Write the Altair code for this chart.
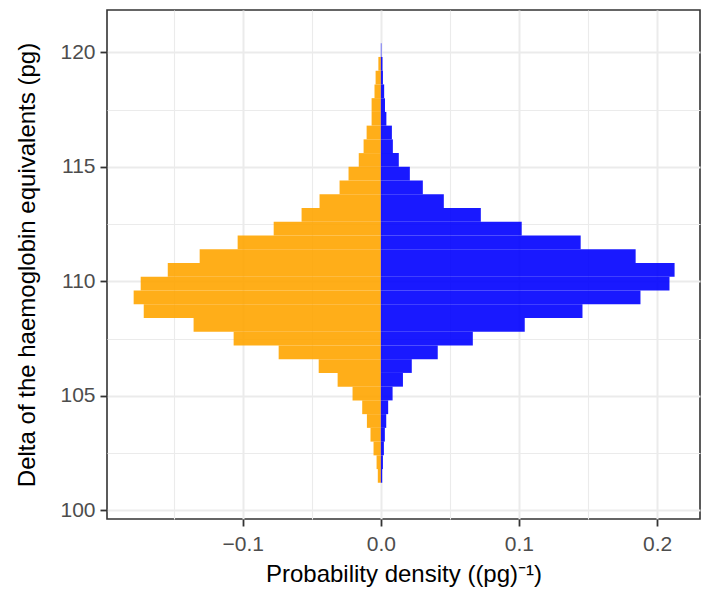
import altair as alt
import pandas as pd

# Lower edges of the histogram bins (pg); each bin is 0.6 pg wide
bin_lower = [101.2, 101.8, 102.4, 103.0, 103.6, 104.2, 104.8, 105.4, 106.0, 106.6,
             107.2, 107.8, 108.4, 109.0, 109.6, 110.2, 110.8, 111.4, 112.0, 112.6,
             113.2, 113.8, 114.4, 115.0, 115.6, 116.2, 116.8, 117.4, 118.0, 118.6,
             119.2, 119.8]
bin_width = 0.6

# Densities (plotted to the left, negative side)
density_orange = [0.0022, 0.0031, 0.0053, 0.0075, 0.0101, 0.0135, 0.0205, 0.0313, 0.045, 0.074,
                  0.1066, 0.1356, 0.1717, 0.179, 0.1739, 0.1543, 0.1312, 0.1037, 0.0776, 0.0574,
                  0.0444, 0.0299, 0.0234, 0.016, 0.0125, 0.0103, 0.0067, 0.0067, 0.0046, 0.0038,
                  0.0018, 0.0]
# Densities (plotted to the right, positive side)
density_blue = [0.001, 0.0015, 0.0022, 0.0029, 0.0039, 0.0053, 0.0085, 0.016, 0.0224, 0.0412,
                0.0666, 0.1042, 0.146, 0.188, 0.209, 0.2127, 0.1845, 0.1447, 0.102, 0.0724,
                0.0456, 0.0304, 0.021, 0.013, 0.0087, 0.008, 0.004, 0.003, 0.0024, 0.0015,
                0.0012, 0.0004]

x_ticks = [-0.15, -0.1, -0.05, 0.0, 0.05, 0.1, 0.15, 0.2]
y_ticks = [100, 102.5, 105, 107.5, 110, 112.5, 115, 117.5, 120]

rows = []
for lo, d in zip(bin_lower, density_orange):
    rows.append({"lower": lo, "upper": lo + bin_width, "value": -d, "base": 0.0, "group": "orange"})
for lo, d in zip(bin_lower, density_blue):
    rows.append({"lower": lo, "upper": lo + bin_width, "value": d, "base": 0.0, "group": "blue"})
df = pd.DataFrame(rows)

FONT = "Liberation Sans"
x_major = "abs(datum.value*10 - round(datum.value*10)) < 1e-6"
y_major = "abs(datum.value/5 - round(datum.value/5)) < 1e-6"

x_axis = alt.Axis(
    values=x_ticks, format=".1f",
    labelExpr=f"({x_major}) ? datum.label : ''",
    title="Probability density ((pg)⁻¹)",
    domain=False, tickColor="#333333", tickSize=7, tickWidth=1.8,
    tickOpacity={"condition": {"test": x_major, "value": 1}, "value": 0},
    gridColor="#EBEBEB",
    gridWidth={"condition": {"test": x_major, "value": 2.0}, "value": 1.1},
    labelColor="#4D4D4D", labelFontSize=21, labelFont=FONT, labelPadding=7,
    titleColor="#000000", titleFontSize=24, titleFont=FONT, titleFontWeight="normal",
    titlePadding=8,
)
y_axis = alt.Axis(
    values=y_ticks, format="d",
    labelExpr=f"({y_major}) ? datum.label : ''",
    title="Delta of the haemoglobin equivalents (pg)",
    domain=False, tickColor="#333333", tickSize=7, tickWidth=1.8,
    tickOpacity={"condition": {"test": y_major, "value": 1}, "value": 0},
    gridColor="#EBEBEB",
    gridWidth={"condition": {"test": y_major, "value": 2.0}, "value": 1.1},
    labelColor="#4D4D4D", labelFontSize=21, labelFont=FONT, labelPadding=5,
    titleColor="#000000", titleFontSize=24, titleFont=FONT, titleFontWeight="normal",
    titlePadding=20,
)

chart = alt.Chart(df).mark_bar(opacity=0.9).encode(
    y=alt.Y("lower:Q", scale=alt.Scale(domain=[99.62, 121.85], nice=False, zero=False), axis=y_axis),
    y2="upper:Q",
    x=alt.X("value:Q", scale=alt.Scale(domain=[-0.1983, 0.2311], nice=False, zero=False), axis=x_axis),
    x2="base:Q",
    color=alt.Color("group:N", scale=alt.Scale(domain=["orange", "blue"], range=["#FFA500", "#0000FF"]), legend=None),
).properties(
    width=593, height=509,
    background="white",
    autosize=alt.AutoSizeParams(type="none"),
    padding={"left": 99, "top": 2, "right": 10, "bottom": 74},
).configure_view(
    stroke="#333333", strokeWidth=1.6
)

chart.save("out.html", embed_options={"renderer": "svg", "actions": False})
